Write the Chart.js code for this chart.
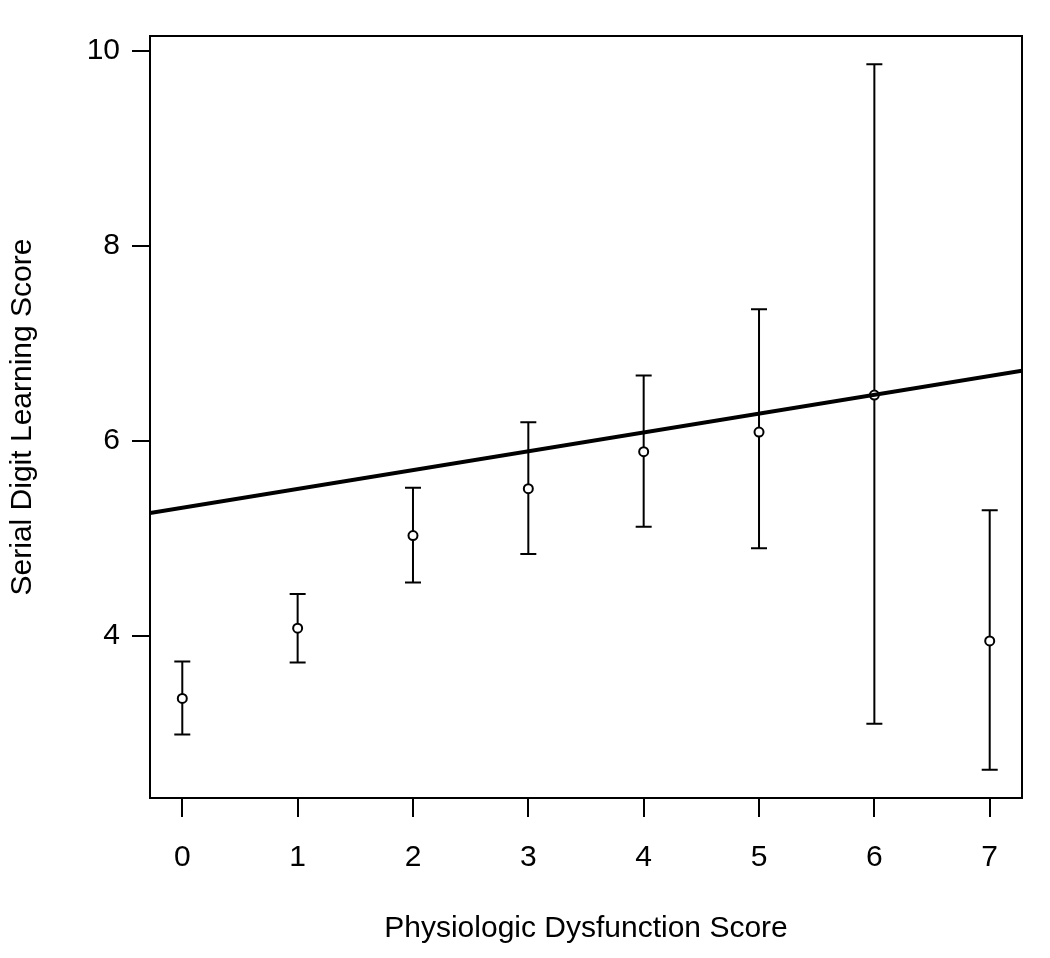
<!DOCTYPE html>
<html>
<head>
<meta charset="utf-8">
<script src="https://cdn.jsdelivr.net/npm/chart.js@4.4.1/dist/chart.umd.min.js"></script>
<style>
  html, body { margin: 0; padding: 0; background: #fff; }
  #wrap { width: 1050px; height: 958px; }
</style>
</head>
<body>
<div id="wrap"><canvas id="chart"></canvas></div>
<script>
// Physiologic dysfunction score (x) vs serial digit learning score (y)
const scores = [0, 1, 2, 3, 4, 5, 6, 7];
const means = [3.36, 4.08, 5.03, 5.51, 5.89, 6.09, 6.47, 3.95];
const upper = [3.74, 4.43, 5.52, 6.19, 6.67, 7.35, 9.86, 5.29];
const lower = [2.99, 3.73, 4.55, 4.84, 5.12, 4.90, 3.10, 2.63];

// fitted line, read at the plot edges
const fitX = [-0.28, 7.28];
const fitY = [5.26, 6.72];

const xTicks = [0, 1, 2, 3, 4, 5, 6, 7];
const yTicks = [4, 6, 8, 10];

const FONT = '"Liberation Sans", Arial, Helvetica, sans-serif';

// error bars with caps, drawn under the circles
const errorBars = {
    id: 'errorBars',
    beforeDatasetsDraw(chart) {
        const ctx = chart.ctx;
        const xs = chart.scales.x;
        const ys = chart.scales.y;
        ctx.save();
        ctx.strokeStyle = '#000';
        ctx.lineWidth = 2;
        scores.forEach((s, i) => {
            const px = xs.getPixelForValue(s);
            const top = ys.getPixelForValue(upper[i]);
            const bot = ys.getPixelForValue(lower[i]);
            ctx.beginPath();
            ctx.moveTo(px, top);
            ctx.lineTo(px, bot);
            ctx.moveTo(px - 8, top);
            ctx.lineTo(px + 8, top);
            ctx.moveTo(px - 8, bot);
            ctx.lineTo(px + 8, bot);
            ctx.stroke();
        });
        ctx.restore();
    }
};

// R-style box around the plot region
const frame = {
    id: 'frame',
    afterDraw(chart) {
        const a = chart.chartArea;
        const ctx = chart.ctx;
        ctx.save();
        ctx.strokeStyle = '#000';
        ctx.lineWidth = 2;
        ctx.strokeRect(a.left, a.top, a.right - a.left, a.bottom - a.top);
        ctx.restore();
    }
};

new Chart(document.getElementById('chart'), {
    type: 'scatter',
    data: {
        datasets: [
            {
                type: 'line',
                data: fitX.map((x, i) => ({ x: x, y: fitY[i] })),
                borderColor: '#000',
                borderWidth: 4,
                pointRadius: 0,
                fill: false,
                tension: 0
            },
            {
                data: scores.map((s, i) => ({ x: s, y: means[i] })),
                pointRadius: 4.5,
                pointBorderWidth: 2,
                pointBorderColor: '#000',
                pointBackgroundColor: '#fff',
                showLine: false
            }
        ]
    },
    plugins: [errorBars, frame],
    options: {
        responsive: true,
        maintainAspectRatio: false,
        animation: false,
        layout: {
            padding: { top: 36, right: 28, left: 0, bottom: 0 }
        },
        plugins: {
            legend: { display: false },
            tooltip: { enabled: false }
        },
        scales: {
            x: {
                type: 'linear',
                min: -0.28,
                max: 7.28,
                afterBuildTicks: scale => { scale.ticks = xTicks.map(v => ({ value: v })); },
                afterFit: scale => { scale.height = 160; },
                border: { display: false },
                grid: {
                    drawOnChartArea: false,
                    drawTicks: true,
                    tickLength: 19,
                    color: '#000',
                    lineWidth: 2
                },
                ticks: {
                    color: '#000',
                    padding: 23,
                    font: { family: FONT, size: 30 },
                    maxRotation: 0
                },
                title: {
                    display: true,
                    text: 'Physiologic Dysfunction Score',
                    color: '#000',
                    font: { family: FONT, size: 30 },
                    padding: { top: 0, bottom: 11 }
                }
            },
            y: {
                type: 'linear',
                min: 2.34,
                max: 10.15,
                afterBuildTicks: scale => { scale.ticks = yTicks.map(v => ({ value: v })); },
                afterFit: scale => { scale.width = 150; },
                border: { display: false },
                grid: {
                    drawOnChartArea: false,
                    drawTicks: true,
                    tickLength: 18,
                    color: '#000',
                    lineWidth: 2
                },
                ticks: {
                    color: '#000',
                    padding: 12,
                    font: { family: FONT, size: 30 }
                },
                title: {
                    display: true,
                    text: 'Serial Digit Learning Score',
                    color: '#000',
                    font: { family: FONT, size: 30 },
                    padding: { top: 5, bottom: 0 }
                }
            }
        }
    }
});
</script>
</body>
</html>
